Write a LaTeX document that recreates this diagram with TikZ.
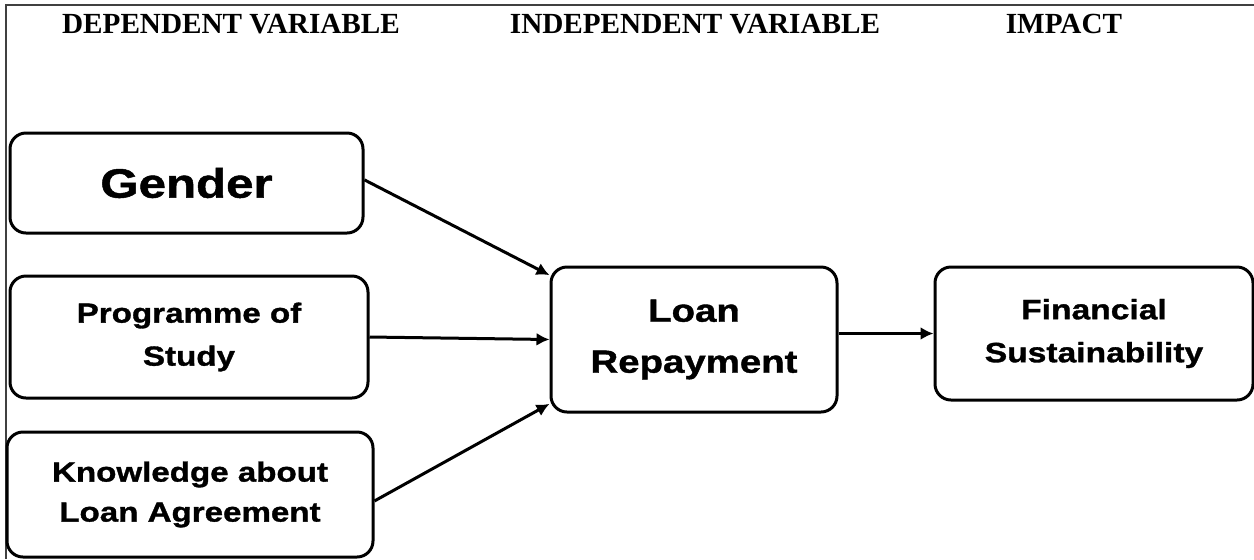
\documentclass[tikz,border=0pt]{standalone}
\usepackage{fontspec}
\setmainfont{Liberation Serif}
\newfontfamily\boxfont{Liberation Sans}[FakeStretch=1.2, BoldFeatures={FakeBold=1.2}]
\usetikzlibrary{arrows.meta}

\begin{document}
\begin{tikzpicture}[x=0.5pt, y=0.5pt,
    varbox/.style={draw, line width=1.5pt, rounded corners=8pt, align=center, inner sep=0pt},
    header/.style={anchor=base, font=\bfseries\fontsize{14.6}{17}\selectfont},
    link/.style={line width=1.5pt, -{Latex[length=6.5pt, width=6.5pt]}}]
    \useasboundingbox (0,0) rectangle (1254,-559);

    % Moldura (linha superior e esquerda)
    \draw[line width=0.7pt, black!75] (1254,-5) -- (6,-5) -- (6,-559);

    % Titulos das colunas
    \node[header] (hdep) at (231,-33) {DEPENDENT VARIABLE};
    \node[header] (hind) at (695,-33) {INDEPENDENT VARIABLE};
    \node[header] (himp) at (1064,-33) {IMPACT};

    % Variaveis dependentes
    \node[varbox, minimum width=176.5pt, minimum height=50pt,
      font=\boxfont\bfseries\fontsize{20.5}{24}\selectfont] (gender) at (186.5,-183) {Gender};
    \node[varbox, minimum width=179pt, minimum height=61pt,
      font=\boxfont\bfseries\fontsize{13.8}{21.5}\selectfont] (prog) at (189,-337) {Programme of\\Study};
    \node[varbox, minimum width=183pt, minimum height=62.5pt,
      font=\boxfont\bfseries\fontsize{13.8}{20}\selectfont] (know) at (190,-494.5) {Knowledge about\\Loan Agreement};

    % Variavel independente
    \node[varbox, minimum width=143pt, minimum height=72.5pt,
      font=\boxfont\bfseries\fontsize{16}{25.5}\selectfont] (loan) at (694,-339.5) {Loan\\Repayment};

    % Impacto
    \node[varbox, minimum width=159pt, minimum height=66.5pt,
      font=\boxfont\bfseries\fontsize{14}{21.5}\selectfont] (fin) at (1094,-333.5) {Financial\\Sustainability};

    % Setas
    \draw[link] (gender.1.5) -- (loan.156);
    \draw[link] (prog.east) -- (loan.west);
    \draw[link] (know.-2.5) -- (loan.204);
    \draw[link] (loan.east |- fin.west) -- (fin.west);
\end{tikzpicture}
\end{document}
